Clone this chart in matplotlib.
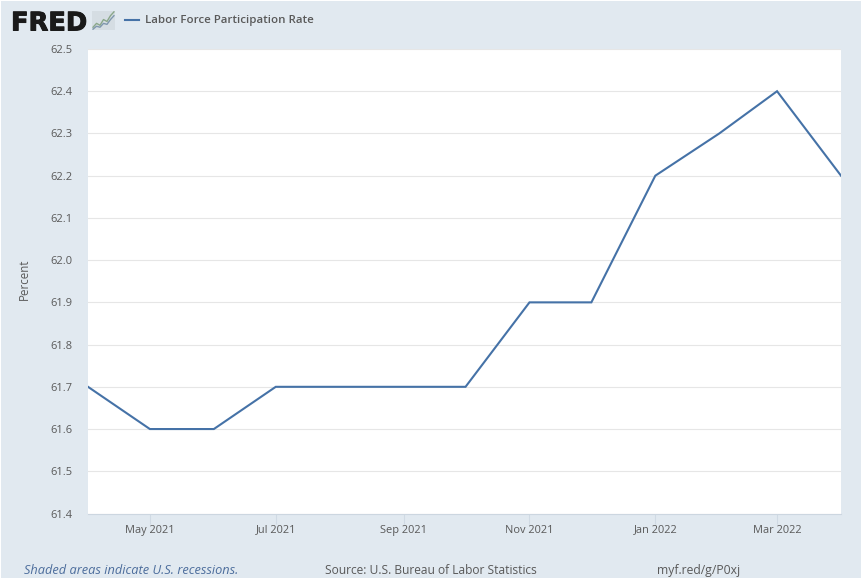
import datetime as dt
import matplotlib
matplotlib.use('Agg')
import matplotlib.pyplot as plt
import matplotlib.dates as mdates
import matplotlib.patheffects as pe
from matplotlib.patches import Rectangle

# monthly values, FRED labor force participation
months = ['2021-04', '2021-05', '2021-06', '2021-07', '2021-08', '2021-09', '2021-10',
          '2021-11', '2021-12', '2022-01', '2022-02', '2022-03', '2022-04']
rate = [61.7, 61.6, 61.6, 61.7, 61.7, 61.7, 61.7, 61.9, 61.9, 62.2, 62.3, 62.4, 62.2]
y_ticks = [61.4, 61.5, 61.6, 61.7, 61.8, 61.9, 62.0, 62.1, 62.2, 62.3, 62.4, 62.5]
x_tick_months = ['2021-05', '2021-07', '2021-09', '2021-11', '2022-01', '2022-03']
logo_a = [1, 3, 2, 5, 4, 7, 9]
logo_b = [0, 1.5, 1, 3, 2.5, 5, 7]

W, H = 862, 582
BG = '#e1e9f0'
LINE = '#4572a7'
TEXT = '#595959'

plt.rcParams['font.family'] = ['Open Sans', 'DejaVu Sans']


def to_date(s):
    return dt.datetime.strptime(s, '%Y-%m')


dates = [to_date(m) for m in months]

fig = plt.figure(figsize=(W / 100, H / 100), dpi=100, facecolor='white')
fig.patches.append(Rectangle((1 / W, 4 / H), 860 / W, 577 / H, transform=fig.transFigure,
                             facecolor=BG, edgecolor='none', zorder=-5))

ax = fig.add_axes([88 / W, 1 - 513.5 / H, 753 / W, 464.5 / H])
ax.set_facecolor('white')
ax.plot(dates, rate, color=LINE, lw=1.5, solid_joinstyle='miter', clip_on=True, zorder=3)
ax.set_xlim(dates[0], dates[-1])
ax.set_ylim(61.4, 62.5)

ax.set_yticks(y_ticks)
ax.set_yticklabels(['%.1f' % v for v in y_ticks])
ax.grid(axis='y', color='#e6e6e6', lw=0.8)
ax.set_axisbelow(True)
ax.tick_params(axis='y', length=0, pad=11.5, labelsize=8, labelcolor=TEXT)

ax.set_xticks([to_date(m) for m in x_tick_months])
ax.xaxis.set_major_formatter(mdates.DateFormatter('%b %Y'))
ax.tick_params(axis='x', length=7, width=0.8, color='#d0dae4', pad=1, labelsize=7.9, labelcolor=TEXT)

for side in ['top', 'right', 'left']:
    ax.spines[side].set_visible(False)
ax.spines['bottom'].set_color('#ccd6e0')
ax.spines['bottom'].set_linewidth(0.8)

ax.set_ylabel('Percent', fontsize=8.3, color=TEXT, labelpad=14, y=0.505)

# header: logo + legend
fred = fig.text(11 / W, 1 - 23.5 / H, 'FRED', fontsize=18.5, fontweight='bold', color='#1a1a1a',
                family=['DejaVu Sans'], va='center', ha='left')
fred.set_path_effects([pe.withStroke(linewidth=0.7, foreground='#1a1a1a')])
logo = fig.add_axes([92 / W, 1 - 30 / H, 23 / W, 19 / H])
logo.plot(logo_a, color='#8aa78a', lw=1)
logo.plot(logo_b, color='#7f97ad', lw=1)
logo.axis('off')
logo.add_patch(Rectangle((0, 0), 1, 1, transform=logo.transAxes, facecolor='#d5dde3',
                         edgecolor='none', zorder=-1))

fig.add_artist(plt.Line2D([125 / W, 139 / W], [1 - 20 / H, 1 - 20 / H], color=LINE, lw=1.5))
fig.text(145 / W, 1 - 21 / H, 'Labor Force Participation Rate', fontsize=8.25, color=TEXT,
         fontweight='semibold', va='center', ha='left')

# footer
fig.text(24 / W, 1 - 570.5 / H, 'Shaded areas indicate U.S. recessions.', fontsize=9.15,
         style='italic', color='#4c6d9c', va='center', ha='left')
fig.text(325 / W, 1 - 570.5 / H, 'Source: U.S. Bureau of Labor Statistics', fontsize=8.65,
         color=TEXT, va='center', ha='left')
fig.text(657 / W, 1 - 570.5 / H, 'myf.red/g/P0xj', fontsize=8.7, color=TEXT, va='center', ha='left')

fig.savefig('out.png', dpi=100, facecolor=fig.get_facecolor())
